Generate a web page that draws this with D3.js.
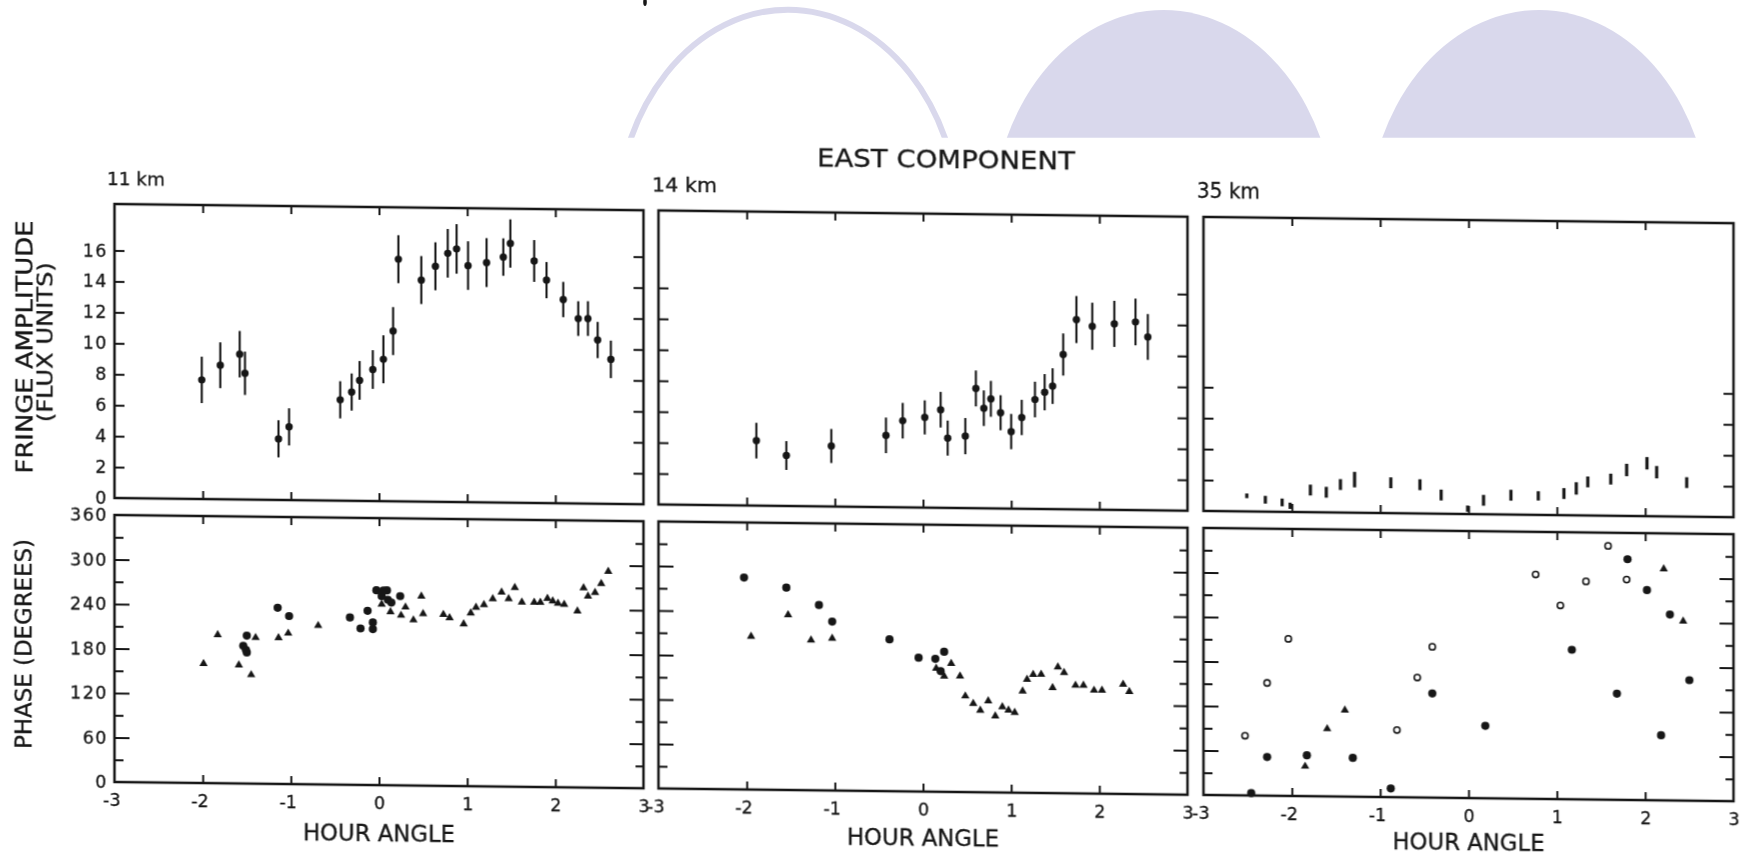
<!DOCTYPE html>
<html>
<head>
<meta charset="utf-8">
<script src="https://cdn.jsdelivr.net/npm/d3@7"></script>
<style>
  html, body { margin: 0; padding: 0; background: #fff; }
  svg { display: block; }
  text { font-family: "DejaVu Sans", "Liberation Sans", sans-serif; fill: #161616; stroke: #161616; stroke-width: 0.3px; }
</style>
</head>
<body>
<svg id="fig" width="1744" height="857"></svg>
<script>
// ---------- data ----------
const hourTicks = [-3, -2, -1, 0, 1, 2, 3];
const innerHourTicks = [-2, -1, 0, 1, 2];
const ampLabelTicks = [0, 2, 4, 6, 8, 10, 12, 14, 16];
const phaseLabelTicks = [0, 60, 120, 180, 240, 300, 360];
const phaseMajorTicks = [60, 120, 180, 240, 300];
const phaseMinorTicks = [30, 90, 150, 210, 270, 330];
const baselineNames = ["11 km", "14 km", "35 km"];

// fringe amplitude: [hour angle, flux units, error]
const amp11 = [
  [-2.01, 7.70, 1.50], [-1.80, 8.66, 1.48], [-1.58, 9.39, 1.50], [-1.52, 8.16, 1.40],
  [-1.14, 3.95, 1.20], [-1.02, 4.73, 1.20], [-0.44, 6.52, 1.20], [-0.31, 7.03, 1.20],
  [-0.22, 7.79, 1.25], [-0.07, 8.50, 1.25], [0.05, 9.17, 1.55], [0.16, 11.00, 1.55],
  [0.22, 15.65, 1.55], [0.48, 14.32, 1.55], [0.64, 15.22, 1.55], [0.78, 16.07, 1.57],
  [0.88, 16.36, 1.60], [1.01, 15.29, 1.57], [1.22, 15.50, 1.58], [1.41, 15.87, 1.21],
  [1.49, 16.75, 1.56], [1.76, 15.64, 1.35], [1.90, 14.41, 1.17], [2.09, 13.17, 1.14],
  [2.26, 11.95, 1.12], [2.37, 11.96, 1.12], [2.48, 10.58, 1.17], [2.63, 9.34, 1.21]
];
const amp14 = [
  [-1.89, 4.20, 1.15], [-1.55, 3.26, 0.93], [-1.04, 3.91, 1.10], [-0.42, 4.64, 1.15],
  [-0.23, 5.60, 1.15], [0.02, 5.83, 1.10], [0.20, 6.34, 1.15], [0.28, 4.51, 1.13],
  [0.48, 4.65, 1.17], [0.60, 7.74, 1.16], [0.69, 6.47, 1.15], [0.77, 7.08, 1.16],
  [0.88, 6.19, 1.13], [1.00, 4.98, 1.14], [1.12, 5.90, 1.14], [1.27, 7.07, 1.15],
  [1.38, 7.55, 1.17], [1.47, 7.95, 1.15], [1.59, 10.00, 1.36], [1.74, 12.27, 1.52],
  [1.92, 11.85, 1.52], [2.17, 12.02, 1.49], [2.41, 12.16, 1.51], [2.55, 11.20, 1.48]
];
const amp35 = [
  [-2.51, 1.01, 0.15], [-2.30, 0.77, 0.25], [-2.11, 0.61, 0.25], [-2.02, 0.40, 0.20],
  [-1.79, 1.43, 0.35], [-1.61, 1.30, 0.35], [-1.45, 1.81, 0.35], [-1.29, 2.14, 0.50],
  [-0.88, 1.96, 0.35], [-0.55, 1.86, 0.35], [-0.31, 1.21, 0.35], [-0.01, 0.35, 0.20],
  [0.17, 0.90, 0.35], [0.48, 1.25, 0.35], [0.79, 1.23, 0.30], [1.08, 1.40, 0.35],
  [1.22, 1.74, 0.40], [1.35, 2.17, 0.35], [1.61, 2.37, 0.35], [1.79, 2.97, 0.40],
  [2.02, 3.42, 0.40], [2.13, 2.85, 0.40], [2.47, 2.20, 0.35]
];

// phase (degrees): [hour angle, phase]
const phase11Filled = [
  [-1.50, 199.5], [-1.54, 185.7], [-1.51, 180.3], [-1.50, 176.7], [-1.15, 237.5],
  [-1.02, 226.5], [-0.33, 225.6], [-0.21, 211.0], [-0.13, 234.8], [-0.07, 219.2],
  [-0.07, 210.2], [-0.03, 262.7], [0.05, 262.5], [0.09, 262.7], [0.03, 255.0],
  [0.10, 250.0], [0.14, 246.3], [0.24, 255.2]
];
const phase11Tri = [
  [-1.99, 160.9], [-1.83, 200.0], [-1.59, 159.6], [-1.45, 146.7], [-1.40, 196.9],
  [-1.14, 197.2], [-1.03, 203.3], [-0.69, 214.1], [0.03, 243.9], [0.13, 233.7],
  [0.25, 229.3], [0.30, 240.4], [0.39, 223.2], [0.48, 255.5], [0.50, 231.8],
  [0.73, 231.1], [0.80, 226.7], [0.96, 218.8], [1.04, 233.6], [1.10, 241.2],
  [1.19, 244.9], [1.29, 253.1], [1.39, 262.2], [1.47, 253.3], [1.54, 268.6],
  [1.62, 248.9], [1.76, 249.0], [1.83, 249.1], [1.91, 254.5], [1.97, 251.0],
  [2.03, 247.9], [2.10, 246.7], [2.25, 237.8], [2.32, 269.3], [2.37, 258.2],
  [2.45, 263.1], [2.52, 275.3], [2.60, 291.9]
];
const phase14Filled = [
  [-2.03, 285.8], [-1.55, 272.8], [-1.18, 249.9], [-1.03, 227.7], [-0.38, 204.7],
  [-0.05, 180.4], [0.14, 179.2], [0.24, 188.8], [0.20, 162.7]
];
const phase14Tri = [
  [-1.95, 206.5], [-1.53, 236.1], [-1.27, 202.4], [-1.03, 205.3], [0.15, 166.3],
  [0.24, 156.1], [0.32, 173.2], [0.42, 156.3], [0.48, 129.5], [0.57, 119.7],
  [0.65, 110.5], [0.74, 123.2], [0.82, 103.1], [0.90, 115.4], [0.97, 111.0],
  [1.04, 108.0], [1.13, 137.2], [1.18, 153.0], [1.25, 159.8], [1.34, 160.0],
  [1.47, 142.2], [1.53, 170.1], [1.60, 162.6], [1.73, 145.7], [1.82, 145.9],
  [1.94, 139.3], [2.03, 139.4], [2.27, 147.9], [2.34, 138.2]
];
const phase35Open = [
  [-2.53, 80.5], [-2.28, 152.0], [-2.04, 211.8], [-0.81, 90.6], [-0.58, 161.7],
  [-0.41, 203.4], [0.76, 302.6], [1.04, 261.2], [1.33, 294.1], [1.58, 342.3],
  [1.79, 297.2]
];
const phase35Filled = [
  [-2.46, 3.2], [-2.28, 52.1], [-1.83, 55.1], [-1.31, 52.4], [-0.88, 11.7],
  [-0.41, 140.4], [0.19, 97.7], [1.17, 201.6], [1.68, 143.1], [1.80, 324.6],
  [2.02, 283.2], [2.18, 87.7], [2.28, 250.7], [2.50, 162.5]
];
const phase35Tri = [
  [-1.85, 40.2], [-1.60, 91.1], [-1.40, 116.6], [2.21, 311.9], [2.43, 241.9]
];

// ---------- layout ----------
const INK = "#161616";
const AMP_H = 294;             // amplitude box height
const PH_TOP = 311, PH_BOTTOM = 578;
const panels = [
  { name: baselineNames[0], u: 0,    w: 529, amp: amp11, ampTicks: [2,4,6,8,10,12,14,16],
    filled: phase11Filled, tri: phase11Tri, open: [], labelled: true,
    titleDx: -7.5, titleSize: 17.5, titleLen: 58, barStyle: "dot", axisTitleY: 634 },
  { name: baselineNames[1], u: 544,  w: 529, amp: amp14, ampTicks: [2,4,6,8,10,12,14],
    filled: phase14Filled, tri: phase14Tri, open: [], labelled: false,
    titleDx: -6.5, titleSize: 19, titleLen: 65, barStyle: "dot", axisTitleY: 632.5 },
  { name: baselineNames[2], u: 1089, w: 530, amp: amp35, ampTicks: [2,4,6,8],
    filled: phase35Filled, tri: phase35Tri, open: phase35Open, labelled: false,
    titleDx: -6.5, titleSize: 21, titleLen: 63, barStyle: "dash", axisTitleY: 630.5 }
];

const svg = d3.select("#fig");
const defs = svg.append("defs");
defs.append("filter").attr("id", "soft")
  .attr("filterUnits", "userSpaceOnUse")
  .attr("x", -200).attr("y", -300).attr("width", 2000).attr("height", 1100)
  .append("feGaussianBlur").attr("stdDeviation", 0.45);
defs.append("clipPath").attr("id", "archClip")
  .append("rect").attr("x", 0).attr("y", 0).attr("width", 1744).attr("height", 137.7);

// ---------- lavender arches across the top ----------
const LAV = "#d9d8ec";
const arches = svg.append("g").attr("clip-path", "url(#archClip)");
arches.append("ellipse").attr("cx", 788).attr("cy", 226.7).attr("rx", 172).attr("ry", 217)
  .attr("fill", "#fff").attr("stroke", LAV).attr("stroke-width", 6);
arches.append("ellipse").attr("cx", 1163.6).attr("cy", 227).attr("rx", 172).attr("ry", 217)
  .attr("fill", LAV);
arches.append("ellipse").attr("cx", 1539).attr("cy", 227).attr("rx", 172).attr("ry", 217)
  .attr("fill", LAV);
svg.append("ellipse").attr("cx", 645).attr("cy", 2).attr("rx", 1.8).attr("ry", 4).attr("fill", INK);

// ---------- figure body (slightly sheared, as printed) ----------
const root = svg.append("g")
  .attr("transform", "translate(114.5,204) skewY(0.68)")
  .attr("filter", "url(#soft)");

root.append("text")
  .attr("x", 831.5).attr("y", -46)
  .attr("text-anchor", "middle")
  .attr("font-size", 25)
  .attr("textLength", 258).attr("lengthAdjust", "spacingAndGlyphs")
  .text("EAST COMPONENT");

// y-axis titles
root.append("text")
  .attr("transform", "translate(-82.5,144) rotate(-90)")
  .attr("text-anchor", "middle").attr("font-size", 23)
  .attr("textLength", 253).attr("lengthAdjust", "spacingAndGlyphs")
  .text("FRINGE  AMPLITUDE");
root.append("text")
  .attr("transform", "translate(-62,139) rotate(-90)")
  .attr("text-anchor", "middle").attr("font-size", 21.5)
  .attr("textLength", 160).attr("lengthAdjust", "spacingAndGlyphs")
  .text("(FLUX  UNITS)");
root.append("text")
  .attr("transform", "translate(-83,441) rotate(-90)")
  .attr("text-anchor", "middle").attr("font-size", 23)
  .attr("textLength", 210).attr("lengthAdjust", "spacingAndGlyphs")
  .text("PHASE  (DEGREES)");

function styleTicks(sel) {
  sel.select(".domain").remove();
  sel.selectAll(".tick line").attr("stroke", INK).attr("stroke-width", 2);
  sel.selectAll(".tick text")
    .attr("fill", INK)
    .style("font-family", "'DejaVu Sans', sans-serif")
    .style("font-size", "17.5px");
}

const triangle = d3.symbol().type(d3.symbolTriangle).size(30);

panels.forEach(p => {
  const g = root.append("g").attr("transform", `translate(${p.u},0)`);
  const x = d3.scaleLinear().domain([-3, 3]).range([0, p.w]);
  const yA = d3.scaleLinear().domain([0, 19]).range([AMP_H, 0]);
  const yP = d3.scaleLinear().domain([0, 360]).range([PH_BOTTOM, PH_TOP]);

  // baseline title
  g.append("text")
    .attr("x", p.titleDx).attr("y", -19)
    .attr("font-size", p.titleSize)
    .attr("textLength", p.titleLen).attr("lengthAdjust", "spacingAndGlyphs")
    .text(p.name);

  // ---- amplitude box ----
  g.append("g").call(d3.axisLeft(yA).tickValues(p.ampTicks).tickSize(-10).tickFormat(""))
    .call(styleTicks);
  g.append("g").attr("transform", `translate(${p.w},0)`)
    .call(d3.axisRight(yA).tickValues(p.ampTicks).tickSize(-10).tickFormat(""))
    .call(styleTicks);
  g.append("g").call(d3.axisTop(x).tickValues(innerHourTicks).tickSize(-8).tickFormat(""))
    .call(styleTicks);
  g.append("g").attr("transform", `translate(0,${AMP_H})`)
    .call(d3.axisBottom(x).tickValues(innerHourTicks).tickSize(-8).tickFormat(""))
    .call(styleTicks);
  g.append("rect").attr("x", 0).attr("y", 0).attr("width", p.w).attr("height", AMP_H)
    .attr("fill", "none").attr("stroke", INK).attr("stroke-width", 2.5);

  if (p.labelled) {
    const la = g.append("g")
      .call(d3.axisLeft(yA).tickValues(ampLabelTicks).tickSize(0).tickPadding(6))
      .call(styleTicks);
    la.selectAll(".tick text").attr("letter-spacing", 1.5).attr("x", -6.5);
  }

  // error bars and points
  const bars = g.append("g");
  if (p.barStyle === "dot") {
    bars.selectAll("line").data(p.amp).join("line")
      .attr("x1", d => x(d[0])).attr("x2", d => x(d[0]))
      .attr("y1", d => yA(d[1] + d[2])).attr("y2", d => yA(d[1] - d[2]))
      .attr("stroke", INK).attr("stroke-width", 2.1);
    bars.selectAll("circle").data(p.amp).join("circle")
      .attr("cx", d => x(d[0])).attr("cy", d => yA(d[1])).attr("r", 3.7)
      .attr("fill", INK);
  } else {
    bars.selectAll("line").data(p.amp).join("line")
      .attr("x1", d => x(d[0])).attr("x2", d => x(d[0]))
      .attr("y1", d => yA(d[1] + d[2])).attr("y2", d => yA(d[1] - d[2]))
      .attr("stroke", INK).attr("stroke-width", 3.2);
  }

  // ---- phase box ----
  g.append("g").call(d3.axisLeft(yP).tickValues(phaseMajorTicks).tickSize(-15).tickFormat(""))
    .call(styleTicks);
  g.append("g").call(d3.axisLeft(yP).tickValues(phaseMinorTicks).tickSize(-9).tickFormat(""))
    .call(styleTicks);
  g.append("g").attr("transform", `translate(${p.w},0)`)
    .call(d3.axisRight(yP).tickValues(phaseMajorTicks).tickSize(-14).tickFormat(""))
    .call(styleTicks);
  g.append("g").attr("transform", `translate(${p.w},0)`)
    .call(d3.axisRight(yP).tickValues(phaseMinorTicks).tickSize(-8).tickFormat(""))
    .call(styleTicks);
  g.append("g").attr("transform", `translate(0,${PH_TOP})`)
    .call(d3.axisTop(x).tickValues(innerHourTicks).tickSize(-8).tickFormat(""))
    .call(styleTicks);
  g.append("g").attr("transform", `translate(0,${PH_BOTTOM})`)
    .call(d3.axisBottom(x).tickValues(innerHourTicks).tickSize(-8).tickFormat(""))
    .call(styleTicks);
  g.append("rect").attr("x", 0).attr("y", PH_TOP).attr("width", p.w).attr("height", PH_BOTTOM - PH_TOP)
    .attr("fill", "none").attr("stroke", INK).attr("stroke-width", 2.5);

  if (p.labelled) {
    const lp = g.append("g")
      .call(d3.axisLeft(yP).tickValues(phaseLabelTicks).tickSize(0).tickPadding(6))
      .call(styleTicks);
    lp.selectAll(".tick text").attr("letter-spacing", 1.5).attr("x", -6.5);
  }

  // hour-angle labels under each phase box (digit centred on its tick)
  const lx = g.append("g").attr("transform", `translate(0,${PH_BOTTOM})`)
    .call(d3.axisBottom(x).tickValues(hourTicks).tickSize(0).tickPadding(12)
      .tickFormat(d => d < 0 ? "-" + Math.abs(d) : String(d)))
    .call(styleTicks);
  lx.selectAll(".tick text")
    .attr("text-anchor", d => d < 0 ? "end" : "middle")
    .attr("dx", d => d < 0 ? 5.5 : 0);

  g.append("text")
    .attr("x", x(0)).attr("y", p.axisTitleY)
    .attr("text-anchor", "middle").attr("font-size", 23)
    .attr("textLength", 152).attr("lengthAdjust", "spacingAndGlyphs")
    .text("HOUR  ANGLE");

  // phase markers
  const pts = g.append("g");
  pts.selectAll("circle.filled").data(p.filled).join("circle")
    .attr("class", "filled")
    .attr("cx", d => x(d[0])).attr("cy", d => yP(d[1])).attr("r", 4.1)
    .attr("fill", INK);
  pts.selectAll("path.tri").data(p.tri).join("path")
    .attr("class", "tri")
    .attr("transform", d => `translate(${x(d[0])},${yP(d[1])})`)
    .attr("d", triangle)
    .attr("fill", INK);
  pts.selectAll("circle.open").data(p.open).join("circle")
    .attr("class", "open")
    .attr("cx", d => x(d[0])).attr("cy", d => yP(d[1])).attr("r", 3.1)
    .attr("fill", "#fff").attr("stroke", INK).attr("stroke-width", 1.6);
});
</script>
</body>
</html>
